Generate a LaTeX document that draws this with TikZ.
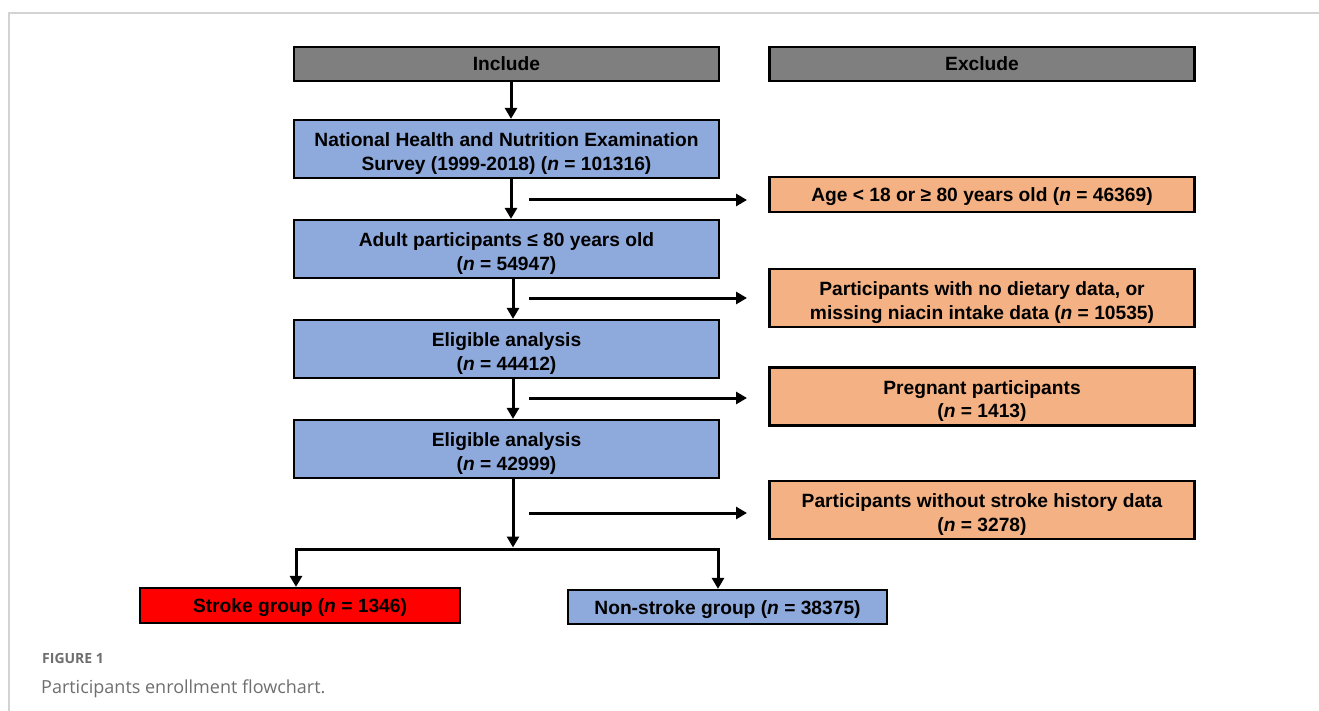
\documentclass[tikz,border=0pt]{standalone}
\usepackage{fontspec}
\setmainfont{Liberation Sans}
\newfontfamily\capfont{Open Sans}
\usetikzlibrary{arrows.meta,calc}
\definecolor{hdrgray}{HTML}{7F7F7F}
\definecolor{incblue}{HTML}{8EA9DB}
\definecolor{excorange}{HTML}{F4B183}
\definecolor{strokered}{HTML}{FF0000}
\definecolor{framegray}{HTML}{D3D3D3}
\definecolor{capgray}{HTML}{6E6E6E}
\newcommand\mytop{\rule{0pt}{25.6pt}}
\newcommand\mybot{\rule[-7pt]{0pt}{0pt}}
\newcommand\myone{\rule[-5pt]{0pt}{24pt}}
\begin{document}
\begin{tikzpicture}[x=1pt,y=-1pt,
  box/.style={draw=black,line width=2.2pt,minimum width=425pt,align=center,inner sep=0pt,
    font=\fontsize{19.2}{23.5}\selectfont\bfseries},
  hdr/.style={box,fill=hdrgray,minimum height=34pt},
  inc/.style={box,fill=incblue,minimum height=58pt},
  exc/.style={box,fill=excorange,minimum height=58pt},
  arr/.style={line width=3pt,-{Triangle[length=11pt,width=12pt]}},
  plain/.style={line width=3pt}]
\useasboundingbox (0,0) rectangle (1319,711);
\draw[framegray,line width=1.5pt] (9,711) -- (9,13) -- (1319,13);
% header
\node[hdr] (hinc) at (506.5,64) {\myone Include};
\node[hdr] (hexc) at (982,64) {\myone Exclude};
% include column
\node[inc] (nh) at (506.5,149) {\mytop National Health and Nutrition Examination\\Survey (1999-2018) (\textit{n} = 101316)\mybot};
\node[inc] (ad) at (506.5,249) {\mytop Adult participants ≤ 80 years old\\(\textit{n} = 54947)\mybot};
\node[inc] (e1) at (506.5,349) {\mytop Eligible analysis\\(\textit{n} = 44412)\mybot};
\node[inc] (e2) at (506.5,449) {\mytop Eligible analysis\\(\textit{n} = 42999)\mybot};
% exclude column
\node[exc,minimum height=35pt] (x1) at (982,194.5) {\myone Age {\textless} 18 or ≥ 80 years old (\textit{n} = 46369)};
\node[exc] (x2) at (982,298) {\mytop Participants with no dietary data, or\\missing niacin intake data (\textit{n} = 10535)\mybot};
\node[exc] (x3) at (982,396.5) {\mytop Pregnant participants\\(\textit{n} = 1413)\mybot};
\node[exc] (x4) at (982,510) {\mytop Participants without stroke history data\\(\textit{n} = 3278)\mybot};
% groups
\node[box,fill=strokered,minimum width=320pt,minimum height=35pt] (sg) at (300,605.5) {\myone Stroke group (\textit{n} = 1346)};
\node[box,fill=incblue,minimum width=319pt,minimum height=34pt] (ns) at (727.5,607) {\myone Non-stroke group (\textit{n} = 38375)};
% vertical arrows
\coordinate (ca) at (511,0);
\coordinate (cb) at (513,0);
\draw[arr] (hinc.south -| ca) -- (nh.north -| ca);
\draw[arr] (nh.south -| ca) -- (ad.north -| ca);
\draw[arr] (ad.south -| cb) -- (e1.north -| cb);
\draw[arr] (e1.south -| cb) -- (e2.north -| cb);
\coordinate (split) at (513,549);
\draw[arr] (e2.south -| cb) -- ($(split)+(0,-1.5)$);
\coordinate (sl) at (296,549);
\coordinate (sr) at (718,549);
\draw[plain,line cap=rect] (sl) -- (sr);
\draw[arr] (sl) -- (sg.north -| sl);
\draw[arr] (sr) -- (ns.north -| sr);
% horizontal exclusion arrows
\foreach \y/\n in {200/a,298/b,398/c,513/d}{
  \coordinate (h\n s) at (529,\y);
  \coordinate (h\n e) at (747,\y);
  \draw[arr] (h\n s) -- (h\n e);
}
% caption
\node[anchor=base west,inner sep=0pt,text=capgray,font=\capfont\fontsize{14}{16}\selectfont\bfseries] (fig) at (42,663) {FIGURE 1};
\node[anchor=base west,inner sep=0pt,text=capgray,font=\capfont\fontsize{18}{21}\selectfont] (cap) at (41,693) {Participants enrollment flowchart.};
\end{tikzpicture}
\end{document}
